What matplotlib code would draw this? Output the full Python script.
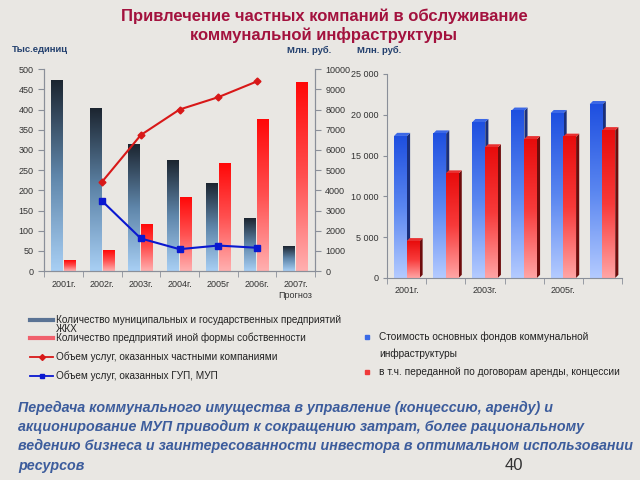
import matplotlib.pyplot as plt
import numpy as np
from matplotlib.colors import LinearSegmentedColormap
from matplotlib.lines import Line2D
from matplotlib.patches import Polygon

plt.rcParams['font.family'] = ['Liberation Sans', 'DejaVu Sans']

# left chart data
years_left = ['2001г.', '2002г.', '2003г.', '2004г.', '2005г', '2006г.', '2007г.\nПрогноз']
mun_enterprises = [471, 402, 312, 274, 217, 131, 60]        # тыс. единиц
other_enterprises = [26, 50, 116, 182, 266, 376, 466]       # тыс. единиц
private_services = [np.nan, 4430, 6740, 8000, 8610, 9390, np.nan]  # млн. руб.
gup_services = [np.nan, 3470, 1620, 1090, 1270, 1160, np.nan]      # млн. руб.

# right chart data
years_right = ['2001г.', '', '2003г.', '', '2005г.', '']
fund_value = [17400, 17700, 19100, 20500, 20200, 21300]
fund_leased = [4500, 12800, 16000, 17000, 17300, 18100]

BG = '#e9e7e3'
TICK = '#333333'
AXC = '#8a8f99'

cm_dark = LinearSegmentedColormap.from_list('d', ['#a8cff4', '#5f86aa', '#1c2530'])
cm_red = LinearSegmentedColormap.from_list('r', ['#ffb0b0', '#ff5050', '#ff0808'])
cm_blue = LinearSegmentedColormap.from_list('b', ['#b4cbff', '#5a86f0', '#1e4fe0'])
cm_red2 = LinearSegmentedColormap.from_list('r2', ['#ffa5a5', '#f83a3a', '#e80c0c'])
grad = np.linspace(0, 1, 256).reshape(-1, 1)


def grad_bar(ax, x, w, h, cmap):
    ax.imshow(grad, extent=[x - w / 2, x + w / 2, 0, h], origin='lower',
              aspect='auto', cmap=cmap, zorder=2)


def px(x, y):
    # pixel position (from top-left) -> figure fraction
    return x / 640, 1 - y / 480


fig = plt.figure(figsize=(6.4, 4.8), dpi=100, facecolor=BG)

fig.text(*px(324, 26), 'Привлечение частных компаний в обслуживание\nкоммунальной инфраструктуры',
         ha='center', va='center', fontsize=12, fontweight='bold', color='#a3123e',
         linespacing=1.2)
fig.text(*px(12, 50), 'Тыс.единиц', fontsize=6.8, fontweight='bold', color='#23406e', va='center')
fig.text(*px(287, 50), 'Млн. руб.', fontsize=6.8, fontweight='bold', color='#23406e', va='center')
fig.text(*px(357, 50), 'Млн. руб.', fontsize=6.8, fontweight='bold', color='#23406e', va='center')

# ---- left chart
ax = fig.add_axes([0.069, 0.435, 0.423, 0.421])
ax.set_facecolor('none')
xl = np.arange(len(years_left))
w = 0.31
for i in range(len(xl)):
    grad_bar(ax, xl[i] - 0.165, w, mun_enterprises[i], cm_dark)
    grad_bar(ax, xl[i] + 0.165, w, other_enterprises[i], cm_red)
ax.set_xlim(-0.5, len(xl) - 0.5)
ax.set_ylim(0, 500)
ax.set_yticks(np.arange(0, 501, 50))
ax.set_xticks(xl)
ax.set_xticklabels(years_left, fontsize=6.5, color=TICK, linespacing=1.3)
ax.set_xticks(np.arange(-0.5, len(xl)), minor=True)
ax.tick_params(axis='x', which='major', length=0, pad=6)
ax.tick_params(axis='x', which='minor', length=4, color=AXC)
ax.tick_params(axis='y', labelsize=6.5, labelcolor=TICK, color=AXC, length=4)
ax.spines['top'].set_visible(False)
for s in ['left', 'bottom', 'right']:
    ax.spines[s].set_color(AXC)

ax2 = ax.twinx()
ax2.plot(xl, private_services, '-D', color='#d81818', ms=3.5, lw=1.5)
ax2.plot(xl, gup_services, '-s', color='#0a18d0', ms=4, lw=1.5)
ax2.set_ylim(0, 10000)
ax2.set_yticks(np.arange(0, 10001, 1000))
ax2.tick_params(axis='y', labelsize=6.5, labelcolor=TICK, color=AXC, length=4)
ax2.spines['top'].set_visible(False)
for s in ['left', 'bottom', 'right']:
    ax2.spines[s].set_color(AXC)

# ---- right chart
bx = fig.add_axes([0.605, 0.421, 0.367, 0.425])
bx.set_facecolor('none')
xr = np.arange(len(years_right))
w2 = 0.33
dx, dy = 0.08, 380
for i in range(len(xr)):
    for xc, h, cm, side, top in [(xr[i] - 0.16, fund_value[i], cm_blue, '#1a2f7a', '#3c68e6'),
                                 (xr[i] + 0.16, fund_leased[i], cm_red2, '#6e0c0c', '#e83030')]:
        x1 = xc + w2 / 2
        x0 = xc - w2 / 2
        bx.add_patch(Polygon([(x1, 0), (x1 + dx, dy), (x1 + dx, h + dy), (x1, h)],
                             closed=True, fc=side, ec='none', zorder=1.5))
        bx.add_patch(Polygon([(x0, h), (x0 + dx, h + dy), (x1 + dx, h + dy), (x1, h)],
                             closed=True, fc=top, ec='none', zorder=1.5))
        grad_bar(bx, xc, w2, h, cm)
bx.set_xlim(-0.5, len(xr) - 0.5)
bx.set_ylim(0, 25000)
bx.set_yticks(np.arange(0, 25001, 5000))
bx.set_yticklabels(['0', '5 000', '10 000', '15 000', '20 000', '25 000'])
bx.set_xticks(xr)
bx.set_xticklabels(years_right, fontsize=6.5, color=TICK)
bx.set_xticks(np.arange(-0.5, len(xr)), minor=True)
bx.tick_params(axis='x', which='major', length=0, pad=6)
bx.tick_params(axis='x', which='minor', length=4, color=AXC)
bx.tick_params(axis='y', labelsize=6.5, labelcolor=TICK, color=AXC, length=3)
for s in ['top', 'right']:
    bx.spines[s].set_visible(False)
for s in ['left', 'bottom']:
    bx.spines[s].set_color(AXC)

# ---- legends (placed by hand to follow the reference spacing)
left_items = [
    (['Количество муниципальных и государственных предприятий', 'ЖКХ'], 320,
     dict(color='#5a7394', lw=3)),
    (['Количество предприятий иной формы собственности'], 338,
     dict(color='#f0606c', lw=3)),
    (['Объем услуг, оказанных частными компаниями'], 357,
     dict(color='#d81818', marker='D', ms=3, lw=1.3)),
    (['Объем услуг, оказанных ГУП, МУП'], 376,
     dict(color='#0a18d0', marker='s', ms=3.5, lw=1.3)),
]
for lines, y, style in left_items:
    x0, yf = px(30, y)
    x1, _ = px(53, y)
    fig.add_artist(Line2D([x0, (x0 + x1) / 2, x1], [yf, yf, yf], markevery=[1],
                          transform=fig.transFigure, **style))
    for k, line in enumerate(lines):
        fig.text(*px(56, y + 8.5 * k), line, fontsize=7.2, color='#222222', va='center')

right_items = [
    ('Стоимость основных фондов коммунальной\nинфраструктуры', 337, '#3a6ae6'),
    ('в т.ч. переданной по договорам аренды, концессии', 372, '#f03a3a'),
]
for label, y, color in right_items:
    fig.add_artist(Line2D([px(367, y)[0]], [px(367, y)[1]], marker='s', ms=3, lw=0,
                          color=color, transform=fig.transFigure))
    fig.text(*px(379, y - 5), label, fontsize=7.3, color='#222222', va='top',
             linespacing=1.75)

note_lines = ['Передача коммунального имущества в управление (концессию, аренду) и',
              'акционирование МУП приводит к сокращению затрат, более рациональному',
              'ведению бизнеса и заинтересованности инвестора в оптимальном использовании',
              'ресурсов']
for k, line in enumerate(note_lines):
    fig.text(*px(18, 408 + 19.2 * k), line, fontsize=10.3, fontweight='bold',
             fontstyle='italic', color='#3c5c9c', va='center')
fig.text(*px(505, 466), '40', fontsize=12, color='#333333', va='center')

plt.savefig('out.png', dpi=100, facecolor=BG)
